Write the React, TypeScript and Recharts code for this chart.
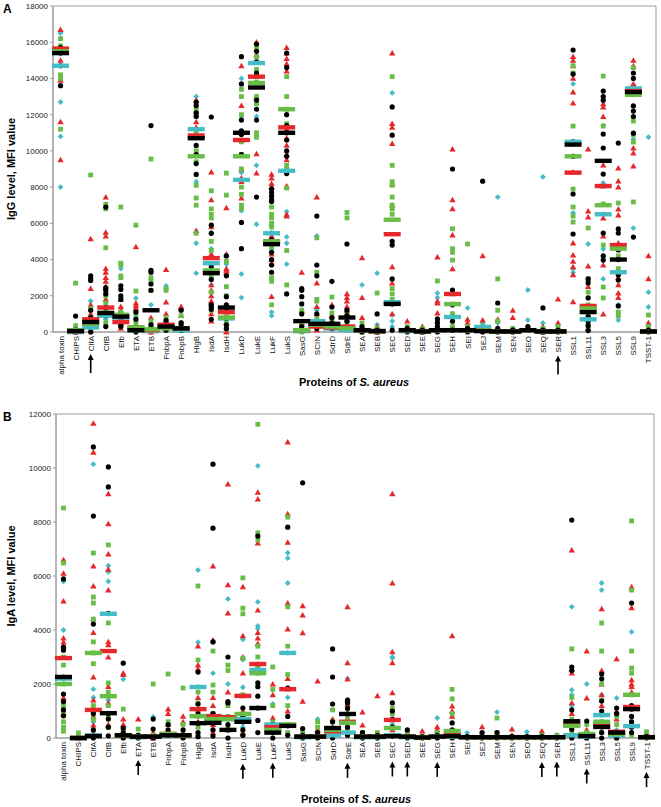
import React from "react";
import { ScatterChart, Scatter, XAxis, YAxis, ReferenceArea } from "recharts";

const FONT = '"Liberation Sans", Arial, sans-serif';
const CYAN = "#45bcc6";
const RED = "#e4282c";
const GREEN = "#68bd47";
const BLACK = "#000000";
const FRAME = "#9c9c9c";

const CATEGORIES = [
  "alpha toxin", "CHIPS", "ClfA", "ClfB", "Efb", "ETA", "ETB", "FnbpA", "FnbpB", "HlgB",
  "IsdA", "IsdH", "LukD", "LukE", "LukF", "LukS", "SasG", "SCIN", "SdrD", "SdrE",
  "SEA", "SEB", "SEC", "SED", "SEE", "SEG", "SEH", "SEI", "SEJ", "SEM",
  "SEN", "SEO", "SEQ", "SER", "SSL1", "SSL11", "SSL3", "SSL5", "SSL9", "TSST-1",
];

const IGG_TICKS = [0, 2000, 4000, 6000, 8000, 10000, 12000, 14000, 16000, 18000];
const IGA_TICKS = [0, 2000, 4000, 6000, 8000, 10000, 12000];

const IGG_ARROWS = [2, 33];
const IGA_ARROWS = [5, 12, 14, 19, 22, 23, 25, 32, 33, 35, 39];

// ---- IgG (panel A) individual values per category ----
const iggCyan = [
  [16500, 12700, 10800, 8000, 14700], [100, 0], [1710, 600, 300, 100, 0], [1100, 700, 300],
  [3500, 1900, 900, 300], [1870, 800, 200, 0], [1500, 300, 0], [2550, 500, 100], [300, 100],
  [13000, 12000, 8300, 4900, 3250], [5500, 4600, 3700, 3200, 2600, 1500], [3750, 2000, 700, 400, 100],
  [14000, 11900, 8800, 6700, 3200, 1900], [15000, 11900, 9200, 5950], [5900, 5500, 4600, 1100, 900],
  [8900, 6650, 5250, 4900, 3750], [300, 100], [5300, 1200, 600, 200], [700, 300, 100], [600, 200],
  [2600, 300, 0], [3250, 400, 0], [13200, 940, 600, 300], [200], [100], [2150, 1900, 300], [900, 300],
  [1330, 200], [500, 300], [7450, 500, 100], [200], [2320, 660, 200], [8560, 500, 100], [100],
  [13700, 10500, 6570, 3480, 3280], [4860, 1000, 500], [11400, 8230, 6510, 4580, 4200, 2930],
  [3310, 1500, 660], [13600, 10650, 5740], [10760, 2200, 1380, 300],
];
const iggRed = [
  [16700, 15600, 15000, 13900, 11600, 9500], [200, 0], [5150, 2400, 1500, 1000, 700, 400, 100],
  [7450, 5500, 5300, 3500, 3300, 3000, 2800, 2500, 1800, 1400, 900], [1800, 1400, 1200, 800, 500, 200],
  [4700, 1600, 1450, 1300, 300, 100], [800, 300, 100, 0], [3450, 1650, 1000, 500, 200],
  [1400, 1300, 900, 500, 200], [12800, 12200, 11600, 11300, 9900, 5600],
  [8830, 7300, 5800, 4300, 2600, 2300, 2000, 1700, 1000, 600], [6850, 4300, 3500, 3400, 3300, 1500, 1100, 500, 0],
  [14700, 12500, 11000, 10600, 9000, 8500, 8300, 7400], [16000, 15300, 14100, 13000, 9830, 8770],
  [8700, 8500, 8200, 8000, 5300, 4300, 4000, 3800, 1950],
  [15700, 15400, 15100, 14800, 14400, 11200, 10700, 10300, 9800, 9500, 8050, 6500, 6400],
  [3300, 1200, 500, 200], [7450, 2700, 1400, 1000, 400, 100], [1500, 900, 500, 200],
  [2100, 1900, 1700, 1400, 1200, 400, 200], [4100, 1900, 800, 200], [300, 0],
  [15400, 11500, 11300, 10400, 8200, 7000, 3600, 2700, 1000], [600, 200], [300, 0],
  [4140, 1700, 1600, 1050, 200], [10100, 7300, 6800, 5350, 3480, 2100, 1000, 300], [700, 500],
  [4200, 660, 200], [700, 200], [1200, 800, 100], [300, 100], [300, 0], [1820, 500, 100],
  [15200, 15000, 14700, 14000, 13250, 12640, 8830, 4910, 4250, 3900, 3600, 3150, 1660],
  [10100, 6680, 6350, 3640, 2500, 1440, 800, 200], [12600, 12420, 11900, 9220, 8060, 6290, 5300, 3700, 990],
  [9050, 8330, 8000, 6790, 6460, 4910, 4800, 3000, 2600, 2150, 1900], [15000, 14700, 13700, 10150, 9880, 9160],
  [4200, 2930, 500, 100],
];
const iggGreen = [
  [16200, 15800, 15500, 14200, 14000, 11200], [2700, 350, 100], [8670, 1300, 800, 500, 200, 100],
  [7050, 6800, 4650, 2000, 1600, 1200, 900, 500], [6900, 3800, 3700, 3100, 3000, 1100, 900, 400],
  [5900, 2260, 1000, 500, 200, 100], [9550, 3000, 2800, 2300, 600, 400, 100], [2400, 2300, 800, 300, 100],
  [900, 500, 200, 100], [12300, 12000, 11000, 10000, 9400, 8100, 7400, 7000, 5450],
  [7800, 6800, 6500, 6300, 5000, 4500, 3000, 2200, 1200], [8770, 7560, 3900, 2500, 2000, 1300, 800, 500, 200],
  [13400, 13000, 12000, 11000, 10500, 9800, 9000, 8000, 7600, 7000, 6800],
  [15700, 15200, 14500, 13800, 13000, 12600, 11000, 10750], [6900, 6500, 6300, 6000, 5800, 4700, 3000, 2800, 1500],
  [14100, 13000, 12300, 11500, 9200, 9000, 7950, 4500, 2600], [1200, 400, 100, 0],
  [5200, 3300, 1800, 1700, 700, 300], [1930, 1050, 600, 300], [6600, 6300, 1000, 500, 200, 100],
  [500, 200, 0], [2150, 200, 0], [14100, 9200, 8300, 8100, 7450, 7000, 6800, 6500, 2400, 2100, 1800],
  [300, 100], [200, 0], [2820, 600, 100], [5700, 4600, 4400, 3970, 1540, 1000, 300], [4860, 300, 100],
  [300, 100], [2930, 1200, 600], [200, 0], [200], [200], [300, 100],
  [14700, 14300, 11370, 9700, 7890, 6900, 6400, 6070], [5740, 2930, 2200, 1500, 1200, 940, 300],
  [14130, 11370, 7070, 4800, 2480, 1880], [7120, 4640, 4200, 3500, 1100, 900],
  [14600, 13100, 11650, 10900, 10490, 7180], [940, 300],
];
const iggBlack = [
  [15700, 15400, 14700, 13600], [880, 100, 0], [3100, 2950, 2850, 1200, 800, 600, 300, 0],
  [6900, 2450, 2300, 2100, 1350, 900, 300], [2550, 2350, 2000, 1800, 800, 400, 300], [1100, 700, 200, 0],
  [11400, 3400, 3300, 2650, 2300, 400, 100], [650, 500, 300, 100], [1200, 500, 300, 100],
  [12700, 12500, 12100, 11900, 10300, 9800, 9300, 8700], [11870, 5900, 5450, 3600, 2900, 1500, 1400, 1250, 700],
  [4200, 3100, 1950, 1500, 1350, 750, 400, 200], [15200, 13700, 11700, 11100, 10900, 9800, 6050, 4600],
  [15900, 15500, 14900, 14300, 12800, 12300, 11700, 7450], [7900, 7700, 7500, 7300, 7200, 5100, 4400, 4000, 3700, 3300],
  [15400, 14600, 12000, 11400, 11000, 10600, 10000, 9700, 8750, 2100], [2400, 2300, 1950, 1550, 1000, 300, 100],
  [6400, 3700, 3100, 1000, 500, 200], [2800, 1380, 800, 500, 200], [4860, 1200, 900, 600, 200], [300, 100, 0],
  [1000, 100, 0], [12430, 10870, 5000, 4800, 2930, 1550, 100], [200, 0], [100, 0], [720, 500, 300, 0],
  [9000, 2320, 1500, 600, 100], [200, 0], [8330, 200, 0], [1600, 200, 0], [100, 0], [300, 100],
  [1330, 100, 0], [100, 0], [15570, 14240, 10500, 10380, 9700, 7620, 5410],
  [2930, 2710, 1880, 1400, 1100, 830, 600, 350, 80], [13300, 13000, 12800, 10930, 10160, 8720, 5460, 4200, 3970],
  [10430, 5690, 5460, 4530, 4000, 3150, 2870, 1440], [14300, 14000, 13300, 12480, 12200, 11900, 10980, 5240],
  [100, 0],
];
const iggMedCyan = [14700, 0, 250, 900, 800, 100, 50, 300, 100, 11200, 3800, 750, 8400, 14850, 5450, 8900, 50, 600, 200, 100, 100, 50, 1650, 50, 30, 100, 830, 100, 280, 30, 30, 100, 30, 30, 10500, 700, 6500, 3300, 13450, 30];
const iggMedRed = [15650, 50, 700, 1350, 550, 250, 100, 400, 200, 10850, 4080, 1100, 10600, 14100, 5000, 11300, 100, 300, 250, 300, 100, 30, 5400, 100, 30, 100, 2100, 100, 100, 30, 30, 100, 30, 30, 8800, 1440, 8060, 4800, 13300, 30];
const iggMedGreen = [15500, 100, 450, 1050, 950, 250, 150, 200, 200, 9700, 3400, 800, 9700, 13750, 5000, 12300, 100, 400, 300, 200, 100, 50, 6200, 100, 30, 100, 1540, 100, 100, 30, 30, 100, 30, 30, 9700, 1300, 7000, 4600, 13100, 30];
const iggMedBlack = [15400, 50, 550, 1050, 850, 100, 1200, 300, 200, 10700, 3250, 1350, 11000, 13500, 4850, 11000, 600, 450, 450, 800, 100, 50, 1550, 100, 30, 100, 100, 100, 50, 30, 30, 100, 30, 30, 10350, 1100, 9450, 4000, 13250, 30];

// ---- IgA (panel B) individual values per category ----
const igaCyan = [
  [5800, 4000, 2200], [50], [10140, 1810, 1500, 600, 300], [6380, 6150, 5800, 4600, 1400], [2180, 300], [100],
  [780, 100], [200], [100], [6220, 3550, 1900, 800], [2400, 900, 300], [5150, 2000, 700], [3650, 2900, 1880, 400],
  [10080, 5040, 4150, 4050, 2500], [1260, 500, 200], [6860, 6660, 5740, 3150, 1500], [100], [700, 100], [300, 100],
  [2200, 300, 200], [100], [50], [3000, 2960, 500], [100], [50], [740, 100], [200], [190, 50], [50], [960, 100],
  [50], [230, 50], [50], [50], [4860, 1780, 1600, 1200], [2000, 200], [5740, 5480, 1600, 850], [1480, 300],
  [3930, 440], [50],
];
const igaRed = [
  [6600, 6100, 5070, 3700, 3550, 3400, 1500, 900], [0], [11650, 10580, 6370, 5630, 4400, 3900, 2260, 1400, 1040, 800, 480, 200],
  [9040, 7930, 6810, 6250, 5480, 3560, 3450, 3000, 1900, 1300, 500], [2400, 2350, 700, 500, 200], [700, 100], [200, 0],
  [1070, 900, 500, 200], [800, 600, 200], [3400, 2700, 2550, 1500, 1070, 600], [6370, 3630, 1500, 1200, 810, 500, 200],
  [9400, 5670, 4630, 1700, 770, 300], [5600, 3780, 3000, 2400, 1560, 1000, 200],
  [9100, 8850, 7220, 4740, 3900, 3700, 3500, 2740], [2000, 1600, 750, 400],
  [10960, 8300, 7250, 5000, 4030, 2200, 1810, 1000], [4890, 4550, 3890, 1360, 200], [2110, 300], [700, 400, 200],
  [4860, 2780, 2180, 1400, 1250, 700, 300], [960, 480, 100], [1560, 100], [9040, 5740, 3190, 2780, 1670, 670, 300],
  [200], [260, 50], [410, 300, 100], [3780, 1180, 1000, 800, 150], [50], [410, 100], [100], [330, 100], [50],
  [260, 100], [100], [6960, 2550, 2400, 1300, 900, 500, 100], [3220, 1480, 300], [4780, 2500, 2000, 1600, 1200, 600],
  [2930, 1000, 700, 230], [5600, 4820, 2150, 2000, 1900, 1700, 1150], [200],
];
const igaGreen = [
  [8520, 6480, 3000, 2700, 2000, 1200, 900, 600, 400, 250], [190, 50], [6850, 5220, 5000, 4400, 3560, 3150, 2750, 1200, 1000, 700],
  [7150, 4260, 2040, 1700, 1550, 1200, 800, 400], [1070, 300, 100], [330, 100], [2000, 100], [2370, 600, 200],
  [1850, 500, 100], [5630, 2890, 1700, 1300, 800, 400, 100], [3220, 1960, 1700, 900, 600], [2700, 2500, 1200, 800, 400],
  [5930, 4810, 4600, 2950, 1600, 890, 600, 100], [11620, 7600, 7350, 3400, 3000, 2600, 2400], [2630, 1800, 1200, 600, 200],
  [8180, 4860, 3400, 2350, 1200, 500, 200], [200, 50], [600, 400, 100], [1040, 600, 200], [1100, 700, 560, 300],
  [200, 50], [200, 50], [1100, 900, 370, 100], [200, 50], [50], [200, 50], [1800, 1450, 900, 260], [50], [100],
  [740, 200, 50], [50], [50], [100], [100], [3300, 1500, 700, 500, 200], [500, 200, 0], [4260, 3220, 2000, 1400, 600, 200],
  [800, 500, 200, 0], [8040, 5480, 3220, 2590, 2400, 1600, 600, 100], [230, 50],
];
const igaBlack = [
  [5890, 3370, 3250, 2260, 1630, 1350, 1040, 820], [0], [10780, 8220, 4220, 900, 300, 0], [10040, 9300, 4620, 900, 700, 400, 80],
  [2770, 370, 200, 0], [100, 0], [700, 330, 0], [500, 300, 100], [300, 100, 0], [2440, 1260, 900, 550, 200, 50],
  [10140, 7770, 3560, 900, 560, 300, 70], [3000, 1350, 1300, 500, 300, 0], [1110, 800, 600, 300, 100],
  [7480, 2040, 1900, 1550, 1110, 650, 200], [500, 400, 200, 0], [7810, 1850, 800, 450, 100], [9450, 350, 100, 0],
  [200, 0], [3300, 2260, 1260, 600, 370, 0], [1400, 1300, 1100, 890, 400, 100], [200, 0], [100, 0],
  [1300, 1000, 700, 400, 70], [300, 0], [50, 0], [100, 0], [560, 300, 100, 0], [50, 0], [200, 0], [200, 0], [50, 0],
  [50, 0], [50, 0], [0], [8070, 2630, 2500, 1040, 600, 320, 0], [630, 100, 0], [2370, 2190, 1370, 1000, 410, 200, 0],
  [1110, 900, 200, 0], [5000, 1200, 1070, 800, 600, 400, 200], [50, 0],
];
const igaMedCyan = [2200, 0, 100, 4600, 100, 30, 50, 100, 100, 1890, 700, 700, 700, 2520, 500, 3150, 30, 50, 100, 200, 30, 30, 100, 30, 20, 50, 50, 30, 30, 30, 30, 30, 30, 30, 100, 50, 850, 100, 440, 30];
const igaMedRed = [2960, 0, 1040, 3220, 100, 50, 50, 150, 100, 1070, 810, 770, 1560, 2740, 400, 1810, 50, 50, 250, 600, 50, 50, 670, 50, 20, 50, 150, 30, 30, 30, 30, 30, 30, 30, 500, 100, 500, 230, 1150, 30];
const igaMedGreen = [2000, 0, 3150, 1550, 100, 50, 50, 150, 100, 810, 700, 700, 890, 2400, 300, 500, 50, 50, 300, 560, 50, 50, 370, 50, 20, 50, 260, 30, 30, 30, 30, 30, 30, 30, 450, 150, 600, 150, 1600, 30];
const igaMedBlack = [2260, 0, 70, 920, 100, 50, 50, 100, 100, 550, 560, 300, 600, 1110, 200, 450, 50, 50, 370, 890, 50, 50, 70, 50, 20, 50, 70, 30, 30, 30, 30, 30, 30, 30, 620, 70, 410, 200, 1070, 30];

const points = (arr: number[][]) => arr.flatMap((vals, i) => vals.map((v) => ({ x: i, y: v })));
const medians = (arr: number[]) => arr.map((v, i) => ({ x: i, y: v }));

let measureCtx: CanvasRenderingContext2D | null = null;
function textWidth(s: string) {
  if (!measureCtx && typeof document !== "undefined") {
    measureCtx = document.createElement("canvas").getContext("2d");
  }
  if (!measureCtx) return s.length * 4.4;
  measureCtx.font = `8px ${FONT}`;
  return measureCtx.measureText(s).width;
}

// marker shapes
const Diamond = (p: any) => (
  <polygon points={`${p.cx},${p.cy - 2.9} ${p.cx + 2.9},${p.cy} ${p.cx},${p.cy + 2.9} ${p.cx - 2.9},${p.cy}`} fill={CYAN} />
);
const Triangle = (p: any) => (
  <polygon points={`${p.cx},${p.cy - 3.1} ${p.cx + 3.2},${p.cy + 2.4} ${p.cx - 3.2},${p.cy + 2.4}`} fill={RED} />
);
const Square = (p: any) => <rect x={p.cx - 2.4} y={p.cy - 2.4} width={4.8} height={4.8} fill={GREEN} />;
const Dot = (p: any) => <circle cx={p.cx} cy={p.cy} r={2.6} fill={BLACK} />;
const medianBar = (color: string) => (p: any) => (
  <rect x={p.cx - 8.5} y={p.cy - 2.2} width={17} height={4.4} fill={color} />
);

const CatTick = (props: any) => {
  const { x, y, payload, arrows, arrowLen } = props;
  const i = payload.value;
  const name = CATEGORIES[i];
  if (name === undefined) return null;
  const w = textWidth(name);
  const tip = y + 4 + w + 3;
  return (
    <g>
      <text
        transform={`translate(${x + 3},${y + 4}) rotate(-90)`}
        textAnchor="end"
        fontSize={8}
        fontFamily={FONT}
        fill="#111"
      >
        {name}
      </text>
      {arrows.includes(i) && (
        <g>
          <line x1={x} y1={tip + 4} x2={x} y2={tip + arrowLen} stroke="#000" strokeWidth={1.6} />
          <polygon points={`${x},${tip} ${x - 3},${tip + 6} ${x + 3},${tip + 6}`} fill="#000" />
        </g>
      )}
    </g>
  );
};

interface PanelProps {
  width: number;
  height: number;
  margin: { top: number; right: number; left: number; bottom: number };
  yWidth: number;
  xHeight: number;
  yMax: number;
  ticks: number[];
  arrows: number[];
  arrowLen: number;
  cyan: number[][];
  red: number[][];
  green: number[][];
  black: number[][];
  medCyan: number[];
  medRed: number[];
  medGreen: number[];
  medBlack: number[];
}

function Panel(p: PanelProps) {
  return (
    <ScatterChart width={p.width} height={p.height} margin={p.margin}>
      <XAxis
        type="number"
        dataKey="x"
        domain={[-0.5, 39.5]}
        ticks={CATEGORIES.map((_, i) => i)}
        interval={0}
        height={p.xHeight}
        tickLine={false}
        tickSize={0}
        tickMargin={0}
        axisLine={{ stroke: FRAME }}
        tick={<CatTick arrows={p.arrows} arrowLen={p.arrowLen} />}
      />
      <YAxis
        type="number"
        dataKey="y"
        domain={[0, p.yMax]}
        ticks={p.ticks}
        interval={0}
        width={p.yWidth}
        tickSize={3}
        tickLine={{ stroke: FRAME }}
        axisLine={{ stroke: FRAME }}
        tick={{ fontSize: 8, fontFamily: FONT, fill: "#222" }}
      />
      <ReferenceArea x1={-0.5} x2={39.5} y1={0} y2={p.yMax} fill="none" stroke={FRAME} strokeWidth={1} />
      <Scatter data={points(p.cyan)} shape={Diamond} isAnimationActive={false} />
      <Scatter data={points(p.red)} shape={Triangle} isAnimationActive={false} />
      <Scatter data={points(p.green)} shape={Square} isAnimationActive={false} />
      <Scatter data={points(p.black)} shape={Dot} isAnimationActive={false} />
      <Scatter data={medians(p.medCyan)} shape={medianBar(CYAN)} isAnimationActive={false} />
      <Scatter data={medians(p.medRed)} shape={medianBar(RED)} isAnimationActive={false} />
      <Scatter data={medians(p.medGreen)} shape={medianBar(GREEN)} isAnimationActive={false} />
      <Scatter data={medians(p.medBlack)} shape={medianBar(BLACK)} isAnimationActive={false} />
    </ScatterChart>
  );
}

const abs = (left: number, top: number): React.CSSProperties => ({ position: "absolute", left, top });

const XTitle = ({ cx, cy }: { cx: number; cy: number }) => (
  <div
    style={{
      ...abs(cx, cy),
      transform: "translate(-50%, -50%)",
      whiteSpace: "nowrap",
      font: `bold 11px ${FONT}`,
      color: "#000",
    }}
  >
    Proteins of <i>S. aureus</i>
  </div>
);

const YTitle = ({ cx, cy, text }: { cx: number; cy: number; text: string }) => (
  <div
    style={{
      ...abs(cx, cy),
      transform: "translate(-50%, -50%) rotate(-90deg)",
      whiteSpace: "nowrap",
      font: `bold 11px ${FONT}`,
      color: "#000",
    }}
  >
    {text}
  </div>
);

export default function App() {
  return (
    <div style={{ position: "absolute", left: 0, top: 0, width: 661, height: 807, background: "#fff", fontFamily: FONT }}>
      <div style={abs(0, 0)}>
        <Panel
          width={661}
          height={392}
          margin={{ top: 6, right: 5, left: 0, bottom: 0 }}
          yWidth={53}
          xHeight={60}
          yMax={18000}
          ticks={IGG_TICKS}
          arrows={IGG_ARROWS}
          arrowLen={19}
          cyan={iggCyan}
          red={iggRed}
          green={iggGreen}
          black={iggBlack}
          medCyan={iggMedCyan}
          medRed={iggMedRed}
          medGreen={iggMedGreen}
          medBlack={iggMedBlack}
        />
      </div>
      <div style={abs(0, 400)}>
        <Panel
          width={661}
          height={400}
          margin={{ top: 14, right: 7, left: 0, bottom: 0 }}
          yWidth={56}
          xHeight={62}
          yMax={12000}
          ticks={IGA_TICKS}
          arrows={IGA_ARROWS}
          arrowLen={15}
          cyan={igaCyan}
          red={igaRed}
          green={igaGreen}
          black={igaBlack}
          medCyan={igaMedCyan}
          medRed={igaMedRed}
          medGreen={igaMedGreen}
          medBlack={igaMedBlack}
        />
      </div>
      <div style={{ ...abs(3, 2), font: `bold 12px ${FONT}` }}>A</div>
      <div style={{ ...abs(3, 410), font: `bold 12px ${FONT}` }}>B</div>
      <YTitle cx={11} cy={169} text="IgG level, MFI value" />
      <YTitle cx={11} cy={576} text="IgA level, MFI value" />
      <XTitle cx={354} cy={382} />
      <XTitle cx={356} cy={799} />
    </div>
  );
}
